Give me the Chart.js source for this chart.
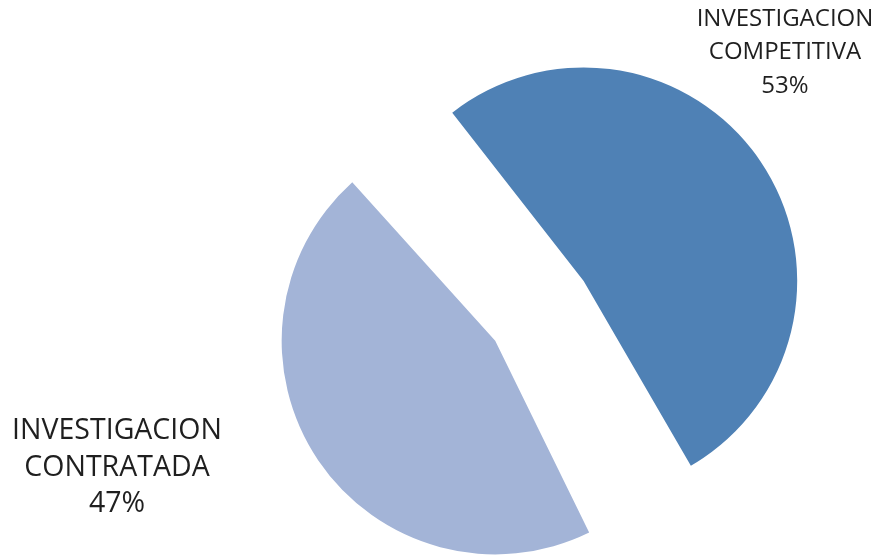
<!DOCTYPE html>
<html>
<head>
<meta charset="utf-8">
<script src="https://cdn.jsdelivr.net/npm/chart.js@4.4.1/dist/chart.umd.min.js"></script>
<style>
  html, body { margin: 0; padding: 0; background: #fff; }
  #wrap { width: 878px; height: 555px; position: relative; }
</style>
</head>
<body>
<div id="wrap"><canvas id="grafica"></canvas></div>
<script>
const categories = ['INVESTIGACION COMPETITIVA', 'INVESTIGACION CONTRATADA'];
const values = [53.3, 46.7];
const colors = ['#4f81b5', '#a3b4d7'];

// label blocks: centre x, first baseline, line step, font size
const labelBoxes = [
    { x: 785, y: 25.6, step: 33.5, size: 24 },
    { x: 117, y: 439, step: 36.5, size: 28.5 }
];

const sliceLabels = {
    id: 'sliceLabels',
    afterDraw(chart) {
        const ctx = chart.ctx;
        const total = values.reduce((a, b) => a + b, 0);
        ctx.save();
        ctx.fillStyle = '#1f1f1f';
        ctx.textAlign = 'center';
        ctx.textBaseline = 'alphabetic';
        categories.forEach((cat, i) => {
            const box = labelBoxes[i];
            const lines = cat.split(' ');
            lines.push(Math.round(values[i] / total * 100) + '%');
            ctx.font = box.size + 'px "Open Sans"';
            lines.forEach((t, j) => ctx.fillText(t, box.x, box.y + j * box.step));
        });
        ctx.restore();
    }
};

const graph = document.querySelector('#grafica');

new Chart(graph, {
    type: 'pie',
    data: {
        labels: categories,
        datasets: [{
            data: values,
            backgroundColor: colors,
            borderWidth: 0,
            offset: [189, 238]
        }]
    },
    options: {
        responsive: true,
        maintainAspectRatio: false,
        animation: false,
        rotation: -40,
        radius: 166.3,
        layout: { padding: { left: 211, top: 60, right: 0, bottom: 0 } },
        plugins: {
            legend: { display: false },
            tooltip: { enabled: false }
        }
    },
    plugins: [sliceLabels]
});
</script>
</body>
</html>
